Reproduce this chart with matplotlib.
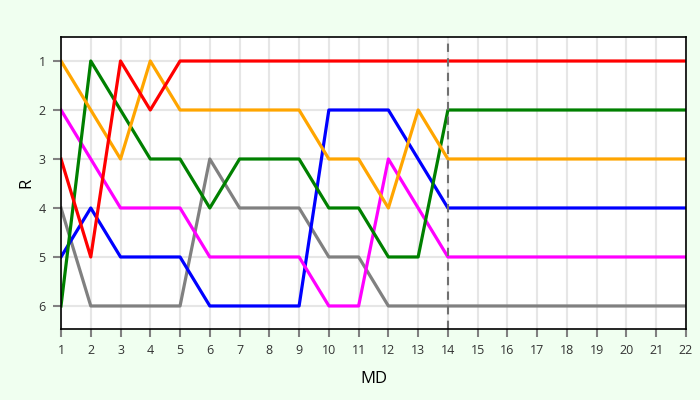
import matplotlib
matplotlib.use("Agg")
from matplotlib import pyplot as plt

plt.rcParams['font.family'] = ['Open Sans', 'DejaVu Sans']

md = list(range(1, 23))
red = [3, 5, 1, 2, 1, 1, 1, 1, 1, 1, 1, 1, 1, 1, 1, 1, 1, 1, 1, 1, 1, 1]
orange = [1, 2, 3, 1, 2, 2, 2, 2, 2, 3, 3, 4, 2, 3, 3, 3, 3, 3, 3, 3, 3, 3]
green = [6, 1, 2, 3, 3, 4, 3, 3, 3, 4, 4, 5, 5, 2, 2, 2, 2, 2, 2, 2, 2, 2]
magenta = [2, 3, 4, 4, 4, 5, 5, 5, 5, 6, 6, 3, 4, 5, 5, 5, 5, 5, 5, 5, 5, 5]
blue = [5, 4, 5, 5, 5, 6, 6, 6, 6, 2, 2, 2, 3, 4, 4, 4, 4, 4, 4, 4, 4, 4]
gray = [4, 6, 6, 6, 6, 3, 4, 4, 4, 5, 5, 6, 6, 6, 6, 6, 6, 6, 6, 6, 6, 6]
marker_md = 14

fig = plt.figure(figsize=(7, 4), dpi=100, facecolor='#f0fff0')
ax = fig.add_axes([61 / 700, 1 - 329 / 400, 625 / 700, 292 / 400])
ax.set_facecolor('white')

ax.plot(md, gray, color='#808080', lw=2.3)
ax.plot(md, blue, color='#0000ff', lw=2.3)
ax.plot(md, magenta, color='#ff00ff', lw=2.3)
ax.plot(md, green, color='#008000', lw=2.3)
ax.plot(md, orange, color='#ffa500', lw=2.3)
ax.plot(md, red, color='#ff0000', lw=2.3)
ax.axvline(marker_md, color='#707070', lw=1.5, ls=(0, (4, 3)))

ax.set_xlim(1, 22)
ax.set_ylim(6.47, 0.51)
ax.set_xticks(md)
ax.set_yticks(range(1, 7))
ax.grid(True, color='#e6e6e6', lw=1.5)
ax.set_axisbelow(True)
ax.tick_params(color='#808080', width=1.5, length=6, labelsize=9,
               labelcolor='#333333', pad=5)
for s in ax.spines.values():
    s.set_color('black')
    s.set_linewidth(1.2)

ax.set_xlabel('MD', fontsize=12, labelpad=10)
ax.set_ylabel('R', fontsize=12, labelpad=3)

fig.savefig('out.png', dpi=100, facecolor=fig.get_facecolor())
